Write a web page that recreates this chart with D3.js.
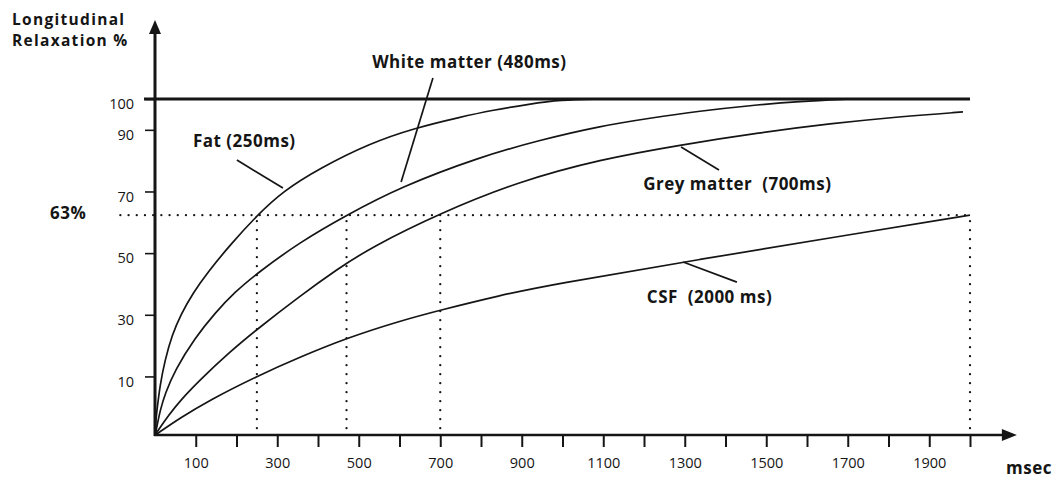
<!DOCTYPE html>
<html><head><meta charset="utf-8">
<script src="https://cdn.jsdelivr.net/npm/d3@7"></script>
<style>
body{margin:0;background:#fff}
svg{display:block}
text{font-family:"Open Sans","Noto Sans",sans-serif;fill:#151515}
</style>
</head><body>
<svg id="chart" width="1052" height="479"></svg>
<script>
// ---- data (time in ms, value in axis units) ----
const fatTime   = [0, 2, 4.9, 12.3, 24.5, 41.7, 63.8, 93.3, 130, 184, 250, 314, 405, 528, 638, 748, 829, 920, 994, 1092];
const fatValue  = [-9, -4.5, -0.9, 7.2, 15.3, 23.4, 30.2, 37.1, 43.9, 52.6, 62.2, 70.1, 77.6, 85.7, 90.6, 94.1, 96.4, 98.4, 99.7, 100];

const wmTime    = [0, 2, 4.9, 12.3, 24.5, 49.1, 98.2, 147.2, 196.3, 247.9, 355.8, 470, 601.2, 797.5, 944.8, 1092, 1214.7, 1337.4, 1460.1, 1582.8, 1705.5];
const wmValue   = [-9, -8, -6.1, -1.2, 4.3, 12.1, 22.5, 30.6, 37.4, 43.2, 53.6, 62.3, 71.4, 81.2, 86.7, 91.2, 93.8, 96.1, 97.9, 99.2, 100];

const gmTime    = [0, 2, 12.3, 31.9, 61.3, 110.4, 184, 250.3, 355.8, 446.6, 527.6, 700, 895.7, 1092, 1288.3, 1484.7, 1656.4, 1828.2, 1982.8];
const gmValue   = [-9, -8.6, -6.6, -2.9, 2.1, 8.9, 18.0, 25.3, 36.1, 44.7, 51.7, 63.0, 73.4, 80.4, 85.1, 89.1, 92.0, 94.3, 95.8];

const csfTime   = [0, 2, 61.3, 135, 250.3, 355.8, 471.2, 601.2, 699.4, 846.6, 969.3, 1337.4, 1705.5, 2000];
const csfValue  = [-9, -8.9, -3.5, 2.4, 10.1, 16.3, 22.5, 28.0, 31.5, 36.3, 39.7, 48.0, 56.0, 62.3];

const seriesNames = ["Fat (250ms)", "White matter (480ms)", "Grey matter  (700ms)", "CSF  (2000 ms)"];

const xTickValues = [100,200,300,400,500,600,700,800,900,1000,1100,1200,1300,1400,1500,1600,1700,1800,1900,2000];
const xTickLabels = ["100","","300","","500","","700","","900","","1100","","1300","","1500","","1700","","1900",""];
const yTickValues = [10, 30, 50, 70, 90, 100];
const yTickLabels = ["10", "30", "50", "70", "90", "100"];

const markerTimes = [250, 470, 700, 2000];   // dotted drop lines
const markerLevel = 62.3;                    // where the dotted "63%" line sits on the axis

// label anchors (data units) and leader lines
const labelTime  = [93, 533, 1198, 1207];
const labelValue = [84.4, 110, 70.5, 33.8];
const leaderFrom = [[201, 80.2], [682, 106.8], [1291, 84.4], [1296, 47.1]];
const leaderTo   = [[314, 71.1], [604, 73.1], [1384, 77.0], [1428, 40.6]];

// ---- chart ----
const svg = d3.select("#chart");
const x = d3.scaleLinear().domain([0, 2000]).range([155, 970]);
const y = d3.scaleLinear().domain([-9, 100]).range([435, 99]);
const ink = "#151515";

// 100% line
svg.append("line")
  .attr("x1", x(0) - 11).attr("x2", x(2000))
  .attr("y1", y(100)).attr("y2", y(100))
  .attr("stroke", ink).attr("stroke-width", 2.8);

// dotted 63% line & drops
const dotted = svg.append("g").attr("stroke", ink).attr("stroke-width", 2.3)
  .attr("stroke-linecap", "round").attr("stroke-dasharray", "0,8.2").attr("fill", "none");
dotted.append("line")
  .attr("x1", x(-85)).attr("x2", x(2000))
  .attr("y1", y(markerLevel)).attr("y2", y(markerLevel));
markerTimes.forEach(t => {
  dotted.append("line")
    .attr("x1", x(t)).attr("x2", x(t))
    .attr("y1", y(markerLevel) + 6).attr("y2", y(-9) - 4)
    .attr("stroke-dasharray", "0,9");
});

// curves
const line = d3.line().x(d => x(d[0])).y(d => y(d[1])).curve(d3.curveBasis);
const series = [
  d3.zip(fatTime, fatValue),
  d3.zip(wmTime, wmValue),
  d3.zip(gmTime, gmValue),
  d3.zip(csfTime, csfValue)
];
svg.append("g").selectAll("path").data(series).join("path")
  .attr("d", line).attr("fill", "none").attr("stroke", ink).attr("stroke-width", 1.7);

// axes
const xAxis = d3.axisBottom(x).tickValues(xTickValues)
  .tickFormat((d, i) => xTickLabels[i]).tickSize(12).tickSizeOuter(0);
const gx = svg.append("g").attr("transform", `translate(0,${y(-9)})`).call(xAxis);
gx.select(".domain").remove();
gx.selectAll(".tick line").attr("stroke", ink).attr("stroke-width", 2);
gx.selectAll(".tick text").attr("y", 33).attr("dy", 0)
  .style("font-size", "14.5px").style("font-family", "'Open Sans',sans-serif").attr("fill", ink);

const yAxis = d3.axisLeft(y).tickValues(yTickValues)
  .tickFormat((d, i) => yTickLabels[i]).tickSize(10).tickSizeOuter(0);
const gy = svg.append("g").attr("transform", `translate(${x(0)},0)`).call(yAxis);
gy.select(".domain").remove();
gy.selectAll(".tick line").attr("stroke", ink).attr("stroke-width", 1.6);
gy.selectAll(".tick text").attr("x", -21).attr("dy", "0.32em").attr("y", 5)
  .style("font-size", "14.5px").style("font-family", "'Open Sans',sans-serif").attr("fill", ink);

// axis lines with arrows
const xEnd = x(2115), yTop = y(125.6);
svg.append("line").attr("x1", x(0) - 1).attr("x2", xEnd - 10)
  .attr("y1", y(-9)).attr("y2", y(-9)).attr("stroke", ink).attr("stroke-width", 2.6);
svg.append("path")
  .attr("d", `M${xEnd},${y(-9)} L${xEnd - 15},${y(-9) - 6} L${xEnd - 15},${y(-9) + 6} Z`)
  .attr("fill", ink);
svg.append("line").attr("x1", x(0)).attr("x2", x(0))
  .attr("y1", y(-9) + 1).attr("y2", yTop + 10).attr("stroke", ink).attr("stroke-width", 3);
svg.append("path")
  .attr("d", `M${x(0)},${yTop} L${x(0) - 6},${yTop + 14} L${x(0) + 6},${yTop + 14} Z`)
  .attr("fill", ink);

// axis titles
const boldText = (sel) => sel.style("font-size", "17px").style("font-weight", "bold")
  .style("letter-spacing", "0.5px").style("white-space", "pre");
const titleText = (sel) => sel.style("font-size", "15.5px").style("font-weight", "bold")
  .style("letter-spacing", "1.3px");
svg.append("text").attr("x", 12).attr("y", 24.5).call(titleText).text("Longitudinal");
svg.append("text").attr("x", 12).attr("y", 45.5).call(titleText).text("Relaxation %");

svg.append("text").attr("x", 1006).attr("y", 474).call(boldText).text("msec");
svg.append("text").attr("x", 50).attr("y", y(markerLevel) + 4).call(boldText).text("63%");

// series labels + leaders
seriesNames.forEach((name, i) => {
  svg.append("text").attr("x", x(labelTime[i])).attr("y", y(labelValue[i]))
    .call(boldText).text(name);
  svg.append("line")
    .attr("x1", x(leaderFrom[i][0])).attr("y1", y(leaderFrom[i][1]))
    .attr("x2", x(leaderTo[i][0])).attr("y2", y(leaderTo[i][1]))
    .attr("stroke", ink).attr("stroke-width", 1.7);
});
</script>
</body></html>
